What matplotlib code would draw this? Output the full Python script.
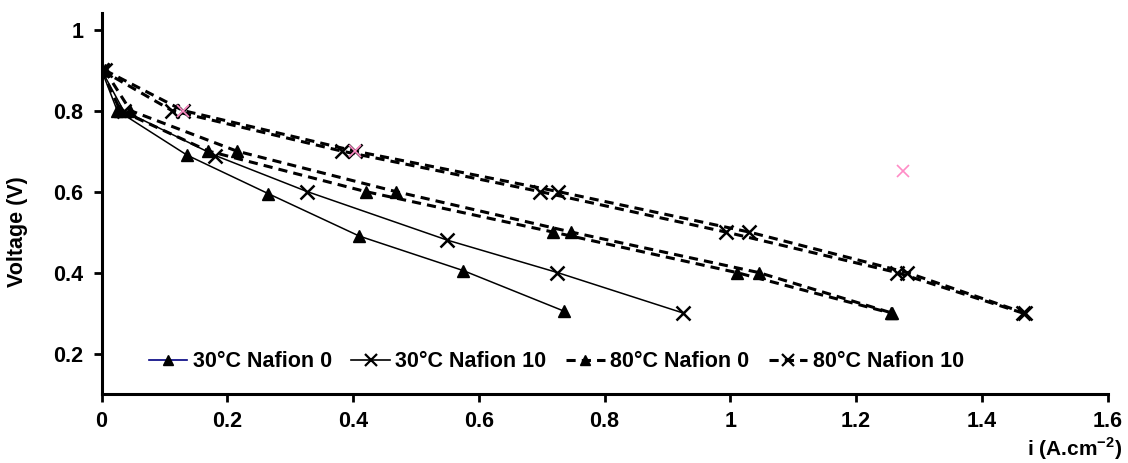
import matplotlib
matplotlib.use("Agg")
import matplotlib.pyplot as plt
from matplotlib.lines import Line2D

plt.rcParams["font.family"] = ["Liberation Sans", "DejaVu Sans"]
plt.rcParams["font.weight"] = "bold"
plt.rcParams["mathtext.fontset"] = "custom"
plt.rcParams["mathtext.bf"] = "Liberation Sans:bold"
plt.rcParams["mathtext.rm"] = "Liberation Sans:bold"

# 30°C Nafion 0
i_30_n0 = [0.0, 0.025, 0.136, 0.265, 0.41, 0.575, 0.735]
v_30_n0 = [0.9, 0.8, 0.69, 0.595, 0.49, 0.405, 0.305]

# 30°C Nafion 10
i_30_n10 = [0.0, 0.035, 0.181, 0.327, 0.55, 0.725, 0.925]
v_30_n10 = [0.9, 0.8, 0.689, 0.6, 0.48, 0.40, 0.30]

# 80°C Nafion 0 (two runs)
i_80_n0_a = [0.0, 0.03, 0.17, 0.42, 0.718, 1.01, 1.255]
i_80_n0_b = [0.005, 0.046, 0.215, 0.468, 0.747, 1.045, 1.257]
v_80_n0 = [0.9, 0.8, 0.7, 0.6, 0.5, 0.4, 0.3]

# 80°C Nafion 10 (two runs)
i_80_n10_a = [0.0, 0.112, 0.382, 0.697, 0.993, 1.265, 1.465]
i_80_n10_b = [0.005, 0.13, 0.403, 0.726, 1.03, 1.281, 1.468]
v_80_n10 = [0.9, 0.8, 0.7, 0.6, 0.5, 0.4, 0.3]

# stray pink markers
i_pink = [0.13, 0.403, 1.275]
v_pink = [0.8, 0.7, 0.65]

labels = ["30°C Nafion 0", "30°C Nafion 10", "80°C Nafion 0", "80°C Nafion 10"]
x_ticks = [0, 0.2, 0.4, 0.6, 0.8, 1, 1.2, 1.4, 1.6]
x_ticklabels = ["0", "0.2", "0.4", "0.6", "0.8", "1", "1.2", "1.4", "1.6"]
y_ticks = [0.2, 0.4, 0.6, 0.8, 1]
y_ticklabels = ["0.2", "0.4", "0.6", "0.8", "1"]

FS = 15.5
DASH = (0, (3, 2))

fig = plt.figure(figsize=(11.28, 4.63), dpi=100)
ax = fig.add_axes([0.090, 0.149, 0.892, 0.822])

ax.plot(i_30_n0, v_30_n0, color="black", lw=1.1, marker="^", ms=8)
ax.plot(i_30_n10, v_30_n10, color="black", lw=1.1, marker="x", ms=10, mew=1.8)
for xs in (i_80_n0_a, i_80_n0_b):
    ax.plot(xs, v_80_n0, color="black", lw=2.2, ls=DASH, marker="^", ms=8)
for xs in (i_80_n10_a, i_80_n10_b):
    ax.plot(xs, v_80_n10, color="black", lw=2.2, ls=DASH, marker="x", ms=10, mew=1.8)
ax.plot(i_pink, v_pink, ls="none", marker="x", ms=8, mew=1.2, color="#ff8cc6")

ax.set_xlim(0, 1.6)
ax.set_ylim(0.1, 1.04)
ax.set_xticks(x_ticks)
ax.set_xticklabels(x_ticklabels)
ax.set_yticks(y_ticks)
ax.set_yticklabels(y_ticklabels)
ax.tick_params(axis="both", labelsize=FS, width=2, length=6, direction="out")
ax.tick_params(axis="x", pad=6)
ax.tick_params(axis="y", pad=7)
for s in ("top", "right"):
    ax.spines[s].set_visible(False)
for s in ("left", "bottom"):
    ax.spines[s].set_linewidth(2.2)

fig.text(17.5 / 1128, 1 - 232 / 463, "Voltage (V)", rotation=90, fontsize=FS,
         fontweight="bold", ha="center", va="center")
fig.text(1122 / 1128, 0.5 / 463, r"i (A.cm$^{\mathbf{-2}}$)", fontsize=15,
         fontweight="bold", ha="right", va="bottom")

handles = [
    Line2D([], [], color="#000080", lw=1.2, marker="^", ms=7, mfc="black", mec="black"),
    Line2D([], [], color="black", lw=1.2, marker="x", ms=9, mew=1.6),
    Line2D([], [], color="black", lw=2.2, ls=DASH, marker="^", ms=7),
    Line2D([], [], color="black", lw=2.2, ls=DASH, marker="x", ms=9, mew=1.6),
]
ax.legend(handles, labels, loc="center left", bbox_to_anchor=(0.075, 0.18),
          bbox_transform=ax.transData, ncol=4, frameon=False, fontsize=FS,
          handlelength=1.8, handletextpad=0.25, columnspacing=0.9,
          borderpad=0, borderaxespad=0)

fig.savefig("out.png", dpi=100, facecolor="white")
